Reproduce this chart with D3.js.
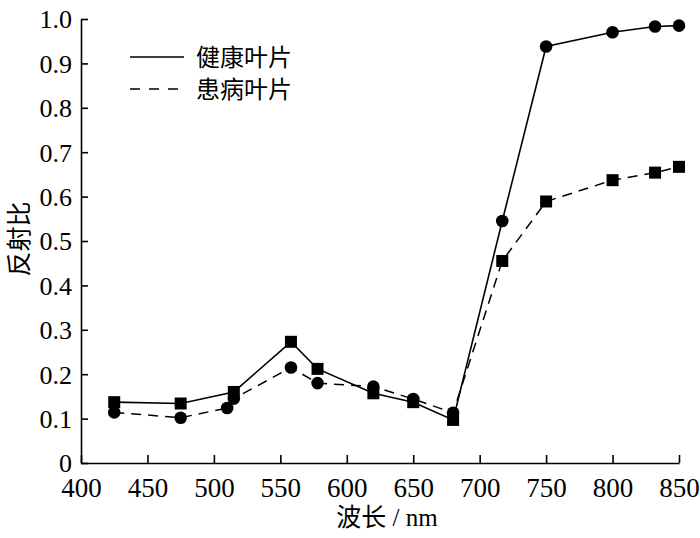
<!DOCTYPE html>
<html><head><meta charset="utf-8">
<script src="https://cdn.jsdelivr.net/npm/d3@7"></script>
<style>body{margin:0;background:#fff}</style>
</head><body>
<svg id="c" width="700" height="538"></svg>
<script>
// ---- data ----
const healthyWavelengths = [425, 475, 515, 558, 578, 620, 650, 680, 717, 750, 800, 832, 850];
const healthyValues      = [0.137, 0.134, 0.160, 0.273, 0.212, 0.157, 0.137, 0.097, 0.545, 0.938, 0.970, 0.983, 0.985];
const diseasedWavelengths = [425, 475, 510, 515, 558, 578, 620, 650, 680, 717, 750, 800, 832, 850];
const diseasedValues      = [0.114, 0.102, 0.124, 0.145, 0.215, 0.180, 0.172, 0.144, 0.113, 0.455, 0.589, 0.637, 0.654, 0.667];
const seriesNames = ["健康叶片", "患病叶片"];
const xTickValues = [400, 450, 500, 550, 600, 650, 700, 750, 800, 850];
const yTickValues = [0, 0.1, 0.2, 0.3, 0.4, 0.5, 0.6, 0.7, 0.8, 0.9, 1.0];
const xTitle = "波长 / nm";
const yTitle = "反射比";
const markerSwitch = 700; // marker shape changes beyond this wavelength

// ---- layout ----
const svg = d3.select("#c");
const L = 81, R = 679, T = 19, B = 463;
const x = d3.scaleLinear().domain([400, 850]).range([L, R]);
const y = d3.scaleLinear().domain([0, 1]).range([B, T]);
const numFont = "Liberation Serif";
const cjkFont = "Noto Sans CJK SC";
const mixFont = "Liberation Serif, Noto Sans CJK SC, serif";

// axes
const yAxis = d3.axisLeft(y).tickValues(yTickValues).tickSizeInner(-7).tickSizeOuter(0).tickPadding(9)
  .tickFormat(d => d === 0 ? "0" : d3.format(".1f")(d));
const gy = svg.append("g").attr("transform", `translate(${L},0)`).call(yAxis);
gy.attr("font-family", null).attr("font-size", null);
gy.selectAll("text").style("font-family", numFont).style("font-size", "26px").attr("fill", "#000").attr("dy", "0.34em");
gy.selectAll("line,path").attr("stroke", "#000").attr("stroke-width", 1.6);

const xAxis = d3.axisBottom(x).tickValues(xTickValues).tickSizeInner(-8).tickSizeOuter(0)
  .tickFormat(d3.format("d"));
const gx = svg.append("g").attr("transform", `translate(0,${B})`).call(xAxis);
gx.attr("font-family", null).attr("font-size", null);
gx.selectAll("text").style("font-family", numFont).style("font-size", "27px").attr("fill", "#000")
  .attr("y", 34).attr("dy", 0);
gx.selectAll("line,path").attr("stroke", "#000").attr("stroke-width", 1.6);

// titles
svg.append("text").style("font-family", mixFont).attr("x", 387).attr("y", 526).attr("text-anchor", "middle")
  .style("font-size", "25px").attr("fill", "#000").text(xTitle);
svg.append("text").style("font-family", cjkFont).attr("transform", "translate(28,239) rotate(-90)").attr("text-anchor", "middle")
  .style("font-size", "25px").attr("fill", "#000").text(yTitle);

// series
const healthy = healthyWavelengths.map((w, i) => ({w, v: healthyValues[i], shape: w < markerSwitch ? "square" : "circle"}));
const diseased = diseasedWavelengths.map((w, i) => ({w, v: diseasedValues[i], shape: w < markerSwitch ? "circle" : "square"}));
const line = d3.line().x(d => x(d.w)).y(d => y(d.v));

svg.append("path").datum(diseased).attr("d", line).attr("fill", "none").attr("stroke", "#000")
  .attr("stroke-width", 1.5).attr("stroke-dasharray", "10,7");
svg.append("path").datum(healthy).attr("d", line).attr("fill", "none").attr("stroke", "#000")
  .attr("stroke-width", 1.6);

function drawMarkers(data) {
  const g = svg.append("g");
  g.selectAll("circle").data(data.filter(d => d.shape === "circle")).join("circle")
    .attr("cx", d => x(d.w)).attr("cy", d => y(d.v)).attr("r", 6.3).attr("fill", "#000");
  g.selectAll("rect").data(data.filter(d => d.shape === "square")).join("rect")
    .attr("x", d => x(d.w) - 6).attr("y", d => y(d.v) - 6).attr("width", 12).attr("height", 12).attr("fill", "#000");
}
drawMarkers(diseased);
drawMarkers(healthy);

// legend
const legend = svg.append("g");
const legendRows = [{name: seriesNames[0], dash: null, y: 57}, {name: seriesNames[1], dash: "10,9", y: 89}];
legendRows.forEach(r => {
  legend.append("line").attr("x1", 130).attr("x2", 184).attr("y1", r.y).attr("y2", r.y)
    .attr("stroke", "#000").attr("stroke-width", 1.5).attr("stroke-dasharray", r.dash);
  legend.append("text").style("font-family", cjkFont).attr("x", 196).attr("y", r.y).attr("dy", "0.36em")
    .style("font-size", "24px").attr("fill", "#000").text(r.name);
});
</script>
</body></html>
